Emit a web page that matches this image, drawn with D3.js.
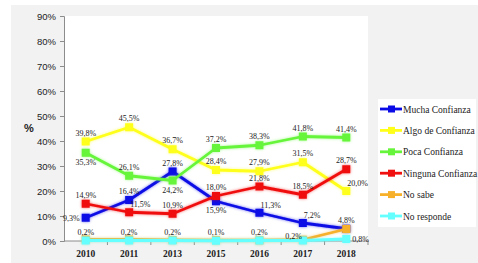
<!DOCTYPE html>
<html>
<head>
<meta charset="utf-8">
<script src="https://cdn.jsdelivr.net/npm/d3@7"></script>
<style>
  body { margin: 0; background: #fff; }
  svg { display: block; }
</style>
</head>
<body>
<div id="chart"></div>
<script>
// data
const years = ["2010", "2011", "2013", "2015", "2016", "2017", "2018"];
const seriesNames = ["Mucha Confianza", "Algo de Confianza", "Poca Confianza", "Ninguna Confianza", "No sabe", "No responde"];
const mucha   = [9.3, 16.4, 27.8, 15.9, 11.3, 7.2, 4.9];
const algo    = [39.8, 45.5, 36.7, 28.4, 27.9, 31.5, 20.0];
const poca    = [35.3, 26.1, 24.2, 37.2, 38.3, 41.8, 41.4];
const ninguna = [14.9, 11.5, 10.9, 18.0, 21.8, 18.5, 28.7];
const noSabe  = [0.6, 0.6, 0.4, 0.3, 0.3, 0.5, 4.8];
const noResp  = [0.2, 0.2, 0.2, 0.1, 0.2, 0.2, 0.8];
const yTicks  = [0, 10, 20, 30, 40, 50, 60, 70, 80, 90];

const values = [mucha, algo, poca, ninguna, noSabe, noResp];
const colors = ["#0a0ae6", "#ffff1a", "#66f53a", "#f01010", "#f7b02a", "#66ffff"];

// where each value label sits relative to its marker (n = hidden)
const labelPos = [
  ["l", "t", "t", "b", "tr", "tr", "n"],
  ["t", "t", "t", "t", "t", "t", "tr"],
  ["b", "t", "b", "t", "t", "t", "t"],
  ["t", "tr", "t", "t", "t", "t", "t"],
  ["n", "n", "n", "n", "n", "n", "t"],
  ["t", "t", "t", "t", "t", "tl", "r"]
];
const offsets = {
  t: [0, -6, "middle"], b: [0, 12, "middle"], l: [-6, 3, "end"],
  r: [6, 3, "start"], tr: [1, -5, "start"], tl: [-1, -2, "end"]
};

const W = 478, H = 263;
const plot = { left: 64, right: 368, top: 16, bottom: 241 };

const svg = d3.select("#chart").append("svg")
  .attr("width", W).attr("height", H);

const defs = svg.append("defs");
const f = defs.append("filter").attr("id", "glow")
  .attr("x", "-20%").attr("y", "-20%").attr("width", "140%").attr("height", "140%");
f.append("feGaussianBlur").attr("in", "SourceGraphic").attr("stdDeviation", 1.6).attr("result", "b");
f.append("feComponentTransfer").attr("in", "b").attr("result", "bf")
  .append("feFuncA").attr("type", "linear").attr("slope", 0.55);
const fm = f.append("feMerge");
fm.append("feMergeNode").attr("in", "bf");
fm.append("feMergeNode").attr("in", "SourceGraphic");

// backgrounds
svg.append("rect").attr("x", 11).attr("y", 5).attr("width", W - 11).attr("height", H - 5)
  .attr("fill", "#f2f2f2");
svg.append("rect").attr("x", plot.left).attr("y", plot.top)
  .attr("width", plot.right - plot.left).attr("height", plot.bottom - plot.top)
  .attr("fill", "#fff");

const x = d3.scalePoint().domain(years).range([plot.left, plot.right]).padding(0.5);
const band = d3.scaleBand().domain(years).range([plot.left, plot.right]);
const y = d3.scaleLinear().domain([0, 90]).range([plot.bottom, plot.top]);

// y axis
const yAxis = svg.append("g")
  .attr("transform", `translate(${plot.left},0)`)
  .call(d3.axisLeft(y).tickValues(yTicks).tickFormat(d => d + "%").tickSize(4).tickPadding(4));
yAxis.select(".domain").attr("stroke", "#8c8c8c");
yAxis.selectAll(".tick line").attr("stroke", "#8c8c8c");
yAxis.selectAll(".tick text")
  .attr("font-family", "'Liberation Sans', Arial, sans-serif")
  .attr("font-size", 9.5).attr("fill", "#222");

svg.append("text").attr("x", 29).attr("y", 132)
  .attr("text-anchor", "middle")
  .attr("font-family", "'Liberation Sans', Arial, sans-serif")
  .attr("font-weight", "bold").attr("font-size", 11).attr("fill", "#222")
  .text("%");

// x axis
const xAxisG = svg.append("g").attr("transform", `translate(0,${plot.bottom})`);
xAxisG.append("line").attr("x1", plot.left).attr("x2", plot.right)
  .attr("stroke", "#8c8c8c");
xAxisG.selectAll(".xt").data(years.slice(1).concat(["end"])).join("line")
  .attr("x1", d => d === "end" ? plot.right : band(d))
  .attr("x2", d => d === "end" ? plot.right : band(d))
  .attr("y1", 0).attr("y2", 4).attr("stroke", "#8c8c8c");
xAxisG.selectAll(".xl").data(years).join("text")
  .attr("x", d => x(d)).attr("y", 16)
  .attr("text-anchor", "middle")
  .attr("font-family", "'Liberation Serif', 'Times New Roman', serif")
  .attr("font-weight", "bold")
  .attr("font-size", 9.5).attr("fill", "#222")
  .text(d => d);

// lines
const line = d3.line().x((d, i) => x(years[i])).y(d => y(d));
const seriesG = svg.append("g");
values.forEach((vals, s) => {
  const g = seriesG.append("g").attr("filter", "url(#glow)");
  g.append("path").datum(vals).attr("d", line)
    .attr("fill", "none").attr("stroke", colors[s]).attr("stroke-width", 2.8)
    .attr("stroke-linejoin", "round");
  g.selectAll("rect").data(vals).join("rect")
    .attr("x", (d, i) => x(years[i]) - 4).attr("y", d => y(d) - 4)
    .attr("width", 8).attr("height", 8).attr("fill", colors[s]);
});

// labels
const fmt = v => d3.format(".1f")(v).replace(".", ",") + "%";
values.forEach((vals, s) => {
  vals.forEach((v, i) => {
    const p = labelPos[s][i];
    if (p === "n") return;
    const o = offsets[p];
    svg.append("text")
      .attr("x", x(years[i]) + o[0]).attr("y", y(v) + o[1])
      .attr("text-anchor", o[2])
      .attr("font-family", "'Liberation Serif', 'Times New Roman', serif")
      .attr("font-size", 8).attr("fill", "#222")
      .text(fmt(v));
  });
});

// legend
const lg = svg.append("g");
lg.append("rect").attr("x", 378).attr("y", 99).attr("width", 98).attr("height", 128).attr("fill", "#fff");
const ly = d3.scalePoint().domain(seriesNames).range([109, 216]);
seriesNames.forEach((name, s) => {
  const g = lg.append("g").attr("transform", `translate(0,${ly(name)})`);
  g.append("line").attr("x1", 380).attr("x2", 402).attr("stroke", colors[s]).attr("stroke-width", 2.8);
  g.append("rect").attr("x", 388).attr("y", -3.5).attr("width", 7).attr("height", 7).attr("fill", colors[s]);
  g.append("text").attr("x", 403).attr("y", 3.5)
    .attr("font-family", "'Liberation Serif', 'Times New Roman', serif")
    .attr("font-size", 9.5).attr("fill", "#222")
    .text(name);
});
</script>
</body>
</html>
